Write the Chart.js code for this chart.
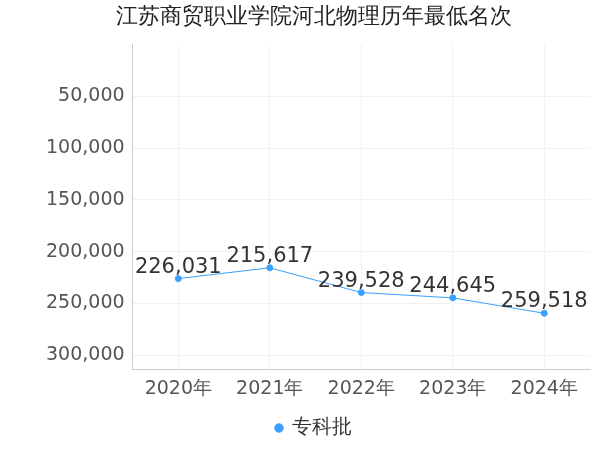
<!DOCTYPE html>
<html>
<head>
<meta charset="utf-8">
<script src="https://cdn.jsdelivr.net/npm/chart.js@4"></script>
<style>
  html, body { margin: 0; padding: 0; background: #fff; }
  #wrap { width: 600px; height: 450px; position: relative; }
</style>
</head>
<body>
<div id="wrap"><canvas id="c"></canvas></div>
<script>
// ── DATA ─────────────────────────────────────────────
var categories = ['2020年', '2021年', '2022年', '2023年', '2024年'];
var rankValues = [226031, 215617, 239528, 244645, 259518];
var yTicks     = [50000, 100000, 150000, 200000, 250000, 300000];

var FONT = "'DejaVu Sans', sans-serif";

// value labels above points
var valueLabels = {
  id: 'valueLabels',
  afterDatasetsDraw: function (chart) {
    var ctx  = chart.ctx;
    var meta = chart.getDatasetMeta(0);
    ctx.save();
    ctx.font = '21px ' + FONT;
    ctx.fillStyle = '#333';
    ctx.textAlign = 'center';
    ctx.textBaseline = 'bottom';
    meta.data.forEach(function (pt, i) {
      ctx.fillText(rankValues[i].toLocaleString('en-US'), pt.x, pt.y - 1);
    });
    ctx.restore();
  }
};

new Chart(document.getElementById('c'), {
  type: 'line',
  data: {
    labels: categories,
    datasets: [{
      label: '专科批',
      data: rankValues,
      borderColor: '#3aa0ff',
      backgroundColor: '#3aa0ff',
      borderWidth: 1,
      pointRadius: 3,
      pointHoverRadius: 4,
      tension: 0
    }]
  },
  options: {
    responsive: true,
    maintainAspectRatio: false,
    animation: false,
    layout: { padding: { left: 38, right: 10, top: 0, bottom: 2 } },
    plugins: {
      title: {
        display: true,
        text: '江苏商贸职业学院河北物理历年最低名次',
        align: 'center',
        fullSize: true,
        color: '#222',
        font: { family: FONT, size: 22, weight: 'normal' },
        padding: { top: 4, bottom: 14 }
      },
      legend: {
        position: 'bottom',
        labels: {
          color: '#333',
          font: { family: FONT, size: 20 },
          usePointStyle: true,
          pointStyle: 'circle',
          boxWidth: 6,
          boxHeight: 6,
          padding: 10
        }
      },
      tooltip: { enabled: false }
    },
    scales: {
      x: {
        offset: true,
        grid: { color: '#f2f2f2', drawTicks: false },
        border: { color: '#ccc' },
        ticks: { color: '#555', font: { family: FONT, size: 19 }, padding: 8 }
      },
      y: {
        reverse: true,
        min: 0,
        max: 313500,
        afterBuildTicks: function (axis) {
          axis.ticks = yTicks.map(function (v) { return { value: v }; });
        },
        grid: { color: '#f2f2f2', drawTicks: false },
        border: { color: '#ccc' },
        ticks: {
          color: '#555',
          font: { family: FONT, size: 19 },
          padding: 8,
          callback: function (v) { return v.toLocaleString('en-US'); }
        }
      }
    }
  },
  plugins: [valueLabels]
});
</script>
</body>
</html>
